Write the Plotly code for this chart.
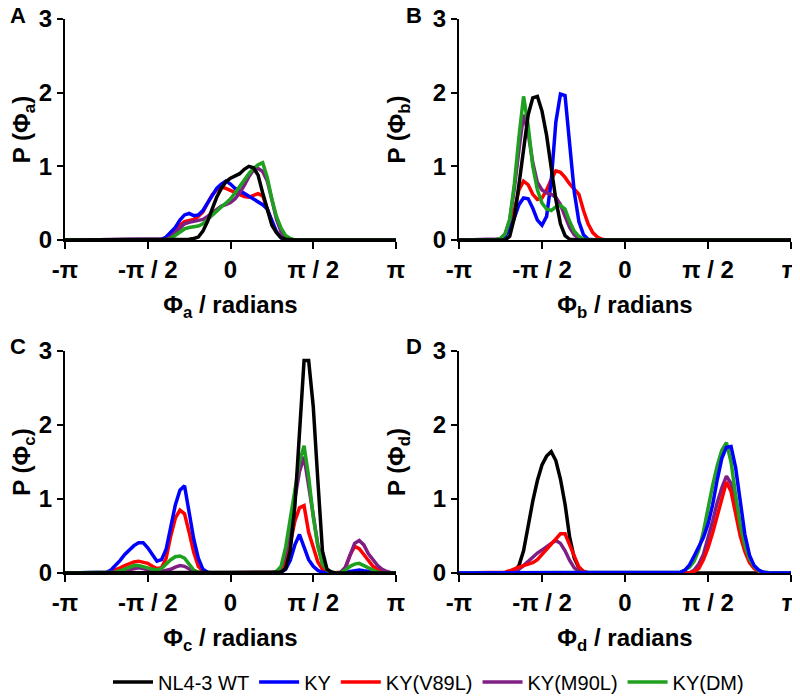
import plotly.graph_objects as go

# ---------------- data ----------------
series_names = ["NL4-3 WT", "KY", "KY(V89L)", "KY(M90L)", "KY(DM)"]
series_colors = ["#000000", "#0000ff", "#ff0000", "#7f1f86", "#1fa01f"]

tick_vals = [-180, -90, 0, 90, 180]
tick_text = ["-π", "-π / 2", "0", "π / 2", "π"]
y_ticks = [0, 1, 2, 3]

# Panel A (x in degrees)
x_a = [-180, -80, -75, -70, -65, -60, -55, -50, -45, -40, -35, -30, -25, -20, -15, -10, -5, 0,
       5, 10, 15, 20, 25, 30, 35, 40, 45, 50, 55, 60, 65, 70, 180]
a_wt = [0, 0, 0, 0, 0, 0, 0, 0.005, 0.01, 0.02, 0.04, 0.12, 0.25, 0.42, 0.58, 0.7, 0.79, 0.84,
        0.87, 0.9, 0.96, 1.0, 0.98, 0.88, 0.64, 0.4, 0.2, 0.1, 0.03, 0.01, 0, 0, 0]
a_ky = [0, 0, 0.01, 0.04, 0.1, 0.17, 0.27, 0.34, 0.36, 0.33, 0.34, 0.4, 0.5, 0.61, 0.7, 0.76, 0.8, 0.76,
        0.7, 0.67, 0.63, 0.59, 0.56, 0.52, 0.48, 0.42, 0.25, 0.11, 0.03, 0.005, 0, 0, 0]
a_v89l = [0, 0, 0, 0.01, 0.04, 0.12, 0.2, 0.25, 0.27, 0.28, 0.32, 0.38, 0.5, 0.61, 0.68, 0.72, 0.7, 0.67,
          0.64, 0.61, 0.59, 0.58, 0.61, 0.63, 0.6, 0.42, 0.24, 0.11, 0.04, 0.01, 0, 0, 0]
a_m90l = [0, 0, 0, 0.01, 0.04, 0.1, 0.17, 0.22, 0.24, 0.25, 0.26, 0.28, 0.32, 0.37, 0.42, 0.46, 0.48, 0.51,
          0.56, 0.64, 0.74, 0.86, 0.95, 0.97, 0.93, 0.8, 0.55, 0.28, 0.11, 0.03, 0.005, 0, 0]
a_dm = [0, 0, 0, 0.005, 0.02, 0.06, 0.11, 0.15, 0.17, 0.18, 0.19, 0.22, 0.28, 0.34, 0.4, 0.45, 0.5, 0.56,
        0.64, 0.73, 0.82, 0.9, 0.97, 1.02, 1.05, 0.85, 0.55, 0.32, 0.16, 0.06, 0.02, 0, 0]

# Panel B
x_b = [-180, -145, -140, -135, -130, -125, -120, -115, -110, -105, -100, -95, -90, -85, -80, -75,
       -70, -65, -60, -55, -50, -45, -40, -35, -30, -25, -20, 180]
b_wt = [0, 0, 0, 0, 0, 0.05, 0.3, 0.75, 1.25, 1.7, 1.93, 1.95, 1.75, 1.42, 0.98, 0.55,
        0.22, 0.06, 0.01, 0, 0, 0, 0, 0, 0, 0, 0, 0]
b_ky = [0, 0, 0, 0.01, 0.05, 0.15, 0.3, 0.48, 0.57, 0.56, 0.43, 0.27, 0.2, 0.32, 0.8, 1.6,
        1.98, 1.96, 1.3, 0.65, 0.25, 0.07, 0.01, 0, 0, 0, 0, 0]
b_v89l = [0, 0, 0, 0.01, 0.05, 0.17, 0.4, 0.68, 0.8, 0.75, 0.62, 0.55, 0.57, 0.68, 0.82, 0.94,
          0.92, 0.85, 0.76, 0.69, 0.62, 0.4, 0.22, 0.1, 0.04, 0.01, 0, 0]
b_m90l = [0, 0, 0, 0.02, 0.08, 0.27, 0.7, 1.22, 1.7, 1.45, 1.05, 0.78, 0.68, 0.64, 0.62, 0.58,
          0.48, 0.32, 0.17, 0.07, 0.02, 0, 0, 0, 0, 0, 0, 0]
b_dm = [0, 0, 0, 0.02, 0.08, 0.28, 0.76, 1.4, 1.95, 1.55, 1.0, 0.68, 0.5, 0.42, 0.4, 0.45,
        0.47, 0.42, 0.25, 0.12, 0.05, 0.01, 0, 0, 0, 0, 0, 0]

# Panel C
x_c = [-180, -145, -140, -135, -130, -125, -120, -115, -110, -105, -100, -95, -90, -85, -80, -75,
       -70, -65, -60, -55, -50, -45, -40, -35, -30, -25, -20,
       35, 40, 45, 50, 55, 60, 65, 70, 75, 80, 85, 90, 95, 100, 105, 110, 115, 120,
       125, 130, 135, 140, 145, 150, 155, 160, 165, 170, 175, 180]
c_wt = [0, 0, 0, 0, 0, 0, 0, 0, 0, 0, 0, 0, 0, 0, 0, 0,
        0, 0, 0, 0, 0, 0, 0, 0, 0, 0, 0,
        0, 0, 0, 0, 0.01, 0.06, 0.3, 0.9, 1.94, 2.87, 2.87, 2.25, 1.25, 0.3, 0.05, 0.01, 0, 0,
        0, 0, 0, 0, 0, 0, 0, 0, 0, 0, 0, 0]
c_ky = [0, 0, 0, 0.01, 0.04, 0.1, 0.17, 0.25, 0.31, 0.37, 0.41, 0.41, 0.34, 0.24, 0.16, 0.18,
        0.32, 0.62, 0.92, 1.12, 1.18, 0.82, 0.46, 0.2, 0.05, 0.01, 0,
        0, 0, 0, 0, 0.01, 0.05, 0.17, 0.38, 0.52, 0.35, 0.18, 0.09, 0.035, 0.01, 0, 0, 0, 0,
        0.005, 0.02, 0.035, 0.04, 0.03, 0.02, 0.01, 0, 0, 0, 0, 0]
c_v89l = [0, 0, 0, 0.005, 0.02, 0.04, 0.07, 0.1, 0.13, 0.15, 0.16, 0.15, 0.13, 0.09, 0.06, 0.07,
          0.2, 0.5, 0.74, 0.85, 0.8, 0.55, 0.28, 0.09, 0.02, 0, 0,
          0, 0, 0, 0.01, 0.04, 0.15, 0.4, 0.7, 0.88, 0.91, 0.55, 0.33, 0.15, 0.05, 0.01, 0, 0, 0.01,
          0.07, 0.24, 0.36, 0.33, 0.25, 0.16, 0.09, 0.05, 0.02, 0.005, 0, 0]
c_m90l = [0, 0, 0, 0, 0, 0.01, 0.02, 0.03, 0.05, 0.06, 0.07, 0.06, 0.04, 0.02, 0.01, 0.02,
          0.03, 0.05, 0.08, 0.1, 0.09, 0.05, 0.02, 0.005, 0, 0, 0,
          0, 0, 0, 0.02, 0.07, 0.27, 0.6, 1.0, 1.37, 1.57, 1.2, 0.78, 0.38, 0.14, 0.04, 0.01, 0, 0.01,
          0.08, 0.25, 0.4, 0.44, 0.38, 0.26, 0.17, 0.1, 0.05, 0.02, 0.005, 0]
c_dm = [0, 0, 0, 0, 0, 0.01, 0.03, 0.05, 0.08, 0.1, 0.1, 0.09, 0.07, 0.05, 0.04, 0.06,
        0.12, 0.18, 0.22, 0.23, 0.2, 0.11, 0.04, 0.01, 0, 0, 0,
        0, 0, 0.005, 0.02, 0.09, 0.35, 0.75, 1.13, 1.5, 1.72, 1.3, 0.76, 0.36, 0.12, 0.04, 0.01, 0, 0.005,
        0.04, 0.09, 0.12, 0.13, 0.1, 0.06, 0.03, 0.01, 0, 0, 0, 0]

# Panel D
x_d = [-180, -140, -135, -130, -125, -120, -115, -110, -105, -100, -95, -90, -85, -80, -75, -70,
       -65, -60, -55, -50, -45, -40, -35,
       45, 50, 55, 60, 65, 70, 75, 80, 85, 90, 95, 100, 105, 110, 115, 120, 125, 130, 135, 140,
       145, 150, 155, 160, 180]
d_wt = [0, 0, 0, 0, 0.005, 0.03, 0.1, 0.3, 0.65, 0.97, 1.25, 1.46, 1.58, 1.64, 1.52, 1.27,
        0.93, 0.48, 0.2, 0.07, 0.02, 0, 0,
        0, 0, 0, 0, 0, 0, 0, 0, 0, 0, 0, 0, 0, 0, 0, 0, 0, 0, 0, 0,
        0, 0, 0, 0, 0]
d_ky = [0, 0, 0, 0, 0, 0, 0, 0, 0, 0, 0, 0, 0, 0, 0, 0,
        0, 0, 0, 0, 0, 0, 0,
        0, 0, 0, 0.01, 0.04, 0.11, 0.23, 0.35, 0.48, 0.66, 0.92, 1.26, 1.55, 1.7, 1.71, 1.42, 0.96, 0.52, 0.24, 0.1,
        0.04, 0.01, 0, 0, 0]
d_v89l = [0, 0, 0, 0.01, 0.03, 0.06, 0.08, 0.1, 0.12, 0.14, 0.18, 0.25, 0.32, 0.4, 0.47, 0.53,
          0.53, 0.38, 0.2, 0.08, 0.02, 0, 0,
          0, 0, 0, 0, 0, 0, 0.02, 0.06, 0.18, 0.34, 0.54, 0.78, 1.02, 1.23, 1.1, 0.79, 0.5, 0.29, 0.14, 0.06,
          0.02, 0, 0, 0, 0]
d_m90l = [0, 0, 0, 0, 0.005, 0.02, 0.05, 0.1, 0.16, 0.22, 0.27, 0.31, 0.36, 0.4, 0.44, 0.4,
          0.3, 0.17, 0.07, 0.02, 0, 0, 0,
          0, 0, 0, 0, 0, 0, 0.04, 0.12, 0.25, 0.46, 0.7, 0.95, 1.15, 1.31, 1.21, 0.88, 0.55, 0.33, 0.18, 0.08,
          0.03, 0.01, 0, 0, 0]
d_dm = [0, 0, 0, 0, 0, 0, 0, 0, 0, 0, 0, 0, 0, 0, 0, 0,
        0, 0, 0, 0, 0, 0, 0,
        0, 0, 0, 0.01, 0.04, 0.08, 0.16, 0.31, 0.56, 0.9, 1.18, 1.45, 1.66, 1.76, 1.5, 1.05, 0.65, 0.37, 0.19, 0.09,
        0.03, 0.01, 0, 0, 0]

panels = [
    dict(letter="A", sub="a", x=x_a, ys=[a_wt, a_ky, a_v89l, a_m90l, a_dm], order=[2, 1, 3, 4, 0]),
    dict(letter="B", sub="b", x=x_b, ys=[b_wt, b_ky, b_v89l, b_m90l, b_dm], order=[2, 1, 3, 4, 0]),
    dict(letter="C", sub="c", x=x_c, ys=[c_wt, c_ky, c_v89l, c_m90l, c_dm], order=[2, 1, 3, 4, 0]),
    dict(letter="D", sub="d", x=x_d, ys=[d_wt, d_ky, d_v89l, d_m90l, d_dm], order=[0, 3, 2, 4, 1]),
]

# ---------------- layout ----------------
W, H = 800, 696
OFF = 8  # page body margin of the html page
ML, MT = 65 - OFF, 19 - OFF
PW, PH = 726, 554
MR, MB = W - ML - PW, H - MT - PH
FONT = "Liberation Sans, Arial, Helvetica, sans-serif"
x_px = [(65, 396), (459, 791)]   # on-screen pixel spans of the panels
y_px = [(19, 240), (351, 573)]


def px_x(px):
    return (px - OFF - ML) / PW


def px_y(py):
    return 1 - (py - OFF - MT) / PH


fig = go.Figure()

for i, p in enumerate(panels):
    ax = "" if i == 0 else str(i + 1)
    for k in p["order"]:
        fig.add_trace(go.Scatter(
            x=p["x"], y=p["ys"][k], mode="lines",
            name=series_names[k],
            line=dict(color=series_colors[k], width=3.5),
            showlegend=(i == 0), legendrank=k + 1,
            xaxis="x" + ax, yaxis="y" + ax,
        ))
    col, row = i % 2, i // 2
    xd = x_px[col]
    yd = y_px[row]
    common = dict(showline=True, linewidth=2, linecolor="black", ticks="outside",
                  tickwidth=2, tickcolor="black", showgrid=False, zeroline=False,
                  layer="below traces", automargin=False, ticklabeloverflow="allow",
                  tickfont=dict(family=FONT, size=24, color="black", weight="bold"))
    fig.layout["xaxis" + ax] = dict(
        domain=[max(0, px_x(xd[0])), min(1, px_x(xd[1]))], anchor="y" + ax, range=[-180, 180],
        tickvals=tick_vals, ticktext=tick_text, ticklen=7,
        title=dict(text="<b>Φ<sub>%s</sub> / radians</b>" % p["sub"], standoff=14,
                   font=dict(family=FONT, size=24, color="black")),
        **common)
    fig.layout["yaxis" + ax] = dict(
        domain=[max(0, px_y(yd[1])), min(1, px_y(yd[0]))], anchor="x" + ax, range=[0, 3],
        tickvals=y_ticks, ticklen=6,
        title=dict(text="<b>P (Φ<sub>%s</sub>)</b>" % p["sub"], standoff=20,
                   font=dict(family=FONT, size=24, color="black")),
        **common)
    fig.add_annotation(
        x=px_x(8 if col == 0 else 404), y=px_y(15.5 if row == 0 else 346),
        xref="paper", yref="paper", xanchor="left", yanchor="middle",
        text="<b>%s</b>" % p["letter"], showarrow=False,
        font=dict(family=FONT, size=22, color="black"))

fig.update_layout(
    width=W, height=H, margin=dict(l=ML, r=MR, t=MT, b=MB, autoexpand=False),
    plot_bgcolor="white", paper_bgcolor="white",
    legend=dict(orientation="h", x=px_x(108), xanchor="left", y=px_y(682), yanchor="middle",
                font=dict(family=FONT, size=20, color="black"), itemwidth=40,
                bgcolor="rgba(0,0,0,0)"),
)

fig.write_html("out.html")
